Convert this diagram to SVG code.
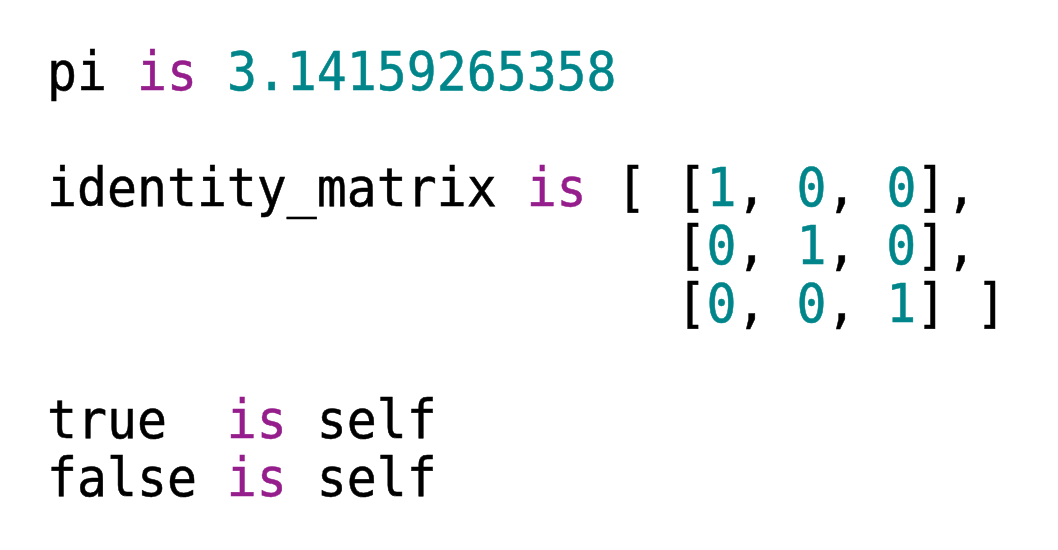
<svg xmlns="http://www.w3.org/2000/svg" width="1058" height="550" viewBox="0 0 1058 550">
<style>
text{font-family:"DejaVu Sans Mono","Liberation Mono",monospace;font-size:49.8px;fill:#000;stroke:#000;stroke-width:0.5px;white-space:pre}
.k{fill:#951d8c;stroke:#951d8c}
.n{fill:#00868a;stroke:#00868a}
</style>
<rect width="1058" height="550" fill="#fff"/>
<g id="code" transform="scale(1,1.07)">
<text x="47" y="84.11" xml:space="preserve">pi <tspan class="k">is</tspan> <tspan class="n">3.14159265358</tspan></text>
<text x="47" y="192.52" xml:space="preserve">identity_matrix <tspan class="k">is</tspan> [ [<tspan class="n">1</tspan>, <tspan class="n">0</tspan>, <tspan class="n">0</tspan>],</text>
<text x="47" y="246.73" xml:space="preserve">                     [<tspan class="n">0</tspan>, <tspan class="n">1</tspan>, <tspan class="n">0</tspan>],</text>
<text x="47" y="300.93" xml:space="preserve">                     [<tspan class="n">0</tspan>, <tspan class="n">0</tspan>, <tspan class="n">1</tspan>] ]</text>
<text x="47" y="409.35" xml:space="preserve">true  <tspan class="k">is</tspan> self</text>
<text x="47" y="463.55" xml:space="preserve">false <tspan class="k">is</tspan> self</text>
</g>
</svg>
